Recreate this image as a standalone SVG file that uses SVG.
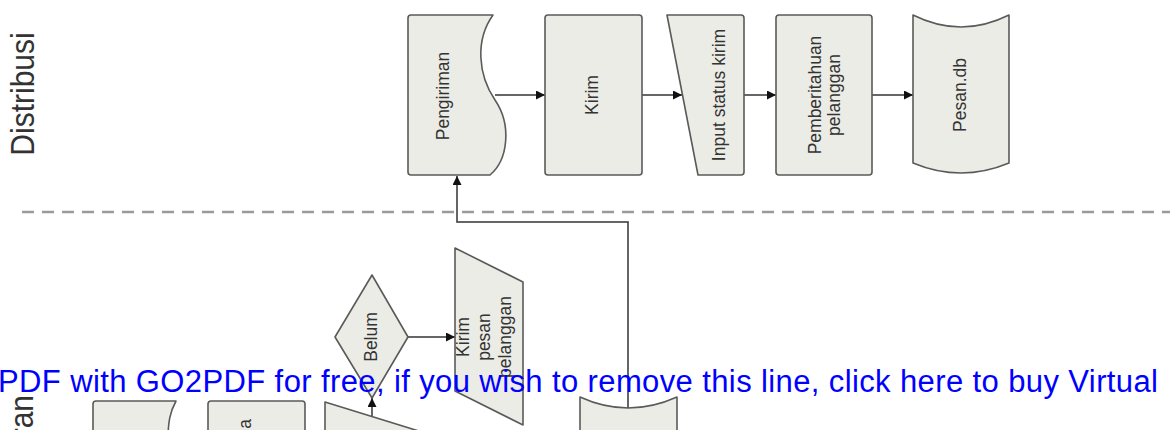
<svg xmlns="http://www.w3.org/2000/svg" width="1170" height="430" viewBox="0 0 1170 430">
<style>
.bg{fill:#ffffff}
.node{fill:#ecece6;stroke:#5a5a5a;stroke-width:1.6;stroke-linejoin:round}
.lbl{font-family:"Liberation Sans",Arial,sans-serif;font-size:17.5px;fill:#333;text-anchor:middle}
.lane{font-family:"Liberation Sans",Arial,sans-serif;font-size:30px;fill:#333}
.conn{fill:none;stroke:#333;stroke-width:1.5}
.sep{fill:none;stroke:#9a9a9a;stroke-width:2.5;stroke-dasharray:12 8}
.wm{font-family:"Liberation Sans",Arial,sans-serif;font-size:31px;fill:#0000ff}
</style>
<defs>
<marker id="ah" viewBox="0 0 10 10" refX="10" refY="5" markerWidth="11" markerHeight="9" markerUnits="userSpaceOnUse" orient="auto">
<path d="M0,0 L10,5 L0,10 Z" fill="#111"/>
</marker>
</defs>
<rect class="bg" x="0" y="0" width="1170" height="430"/>

<g id="lane-distribusi">
<text class="lane" text-anchor="middle" transform="translate(34,94) rotate(-90) scale(1,1.08)">Distribusi</text>
<line class="sep" x1="22" y1="212" x2="1170" y2="212"/>
</g>
<g id="lane-bawah">
<text class="lane" text-anchor="end" transform="translate(33,395) rotate(-90) scale(1,1.08)">ran</text>
</g>

<g id="connectors">
<line class="conn" x1="495" y1="95" x2="545" y2="95" marker-end="url(#ah)"/>
<line class="conn" x1="642" y1="95" x2="682" y2="95" marker-end="url(#ah)"/>
<line class="conn" x1="744" y1="95" x2="776" y2="95" marker-end="url(#ah)"/>
<line class="conn" x1="872" y1="95" x2="913" y2="95" marker-end="url(#ah)"/>
<polyline class="conn" points="628,408 628,222 457,222 457,176" marker-end="url(#ah)"/>
<line class="conn" x1="408" y1="337" x2="455" y2="337" marker-end="url(#ah)"/>
<line class="conn" x1="372" y1="416" x2="372" y2="398" marker-end="url(#ah)"/>
</g>

<g id="pengiriman">
<path class="node" d="M408,18 Q408,15 411,15 L493,15 C475,40 478,75 495,100 C512,125 508,160 490,175 L411,175 Q408,175 408,172 Z"/>
<text class="lbl" transform="translate(449,96) rotate(-90)">Pengiriman</text>
</g>
<g id="kirim">
<rect class="node" x="545" y="15" width="97" height="160" rx="3"/>
<text class="lbl" transform="translate(598,95) rotate(-90)">Kirim</text>
</g>
<g id="input-status-kirim">
<path class="node" d="M667,15 L741,15 Q744,15 744,18 L744,172 Q744,175 741,175 L698,175 Z"/>
<text class="lbl" transform="translate(725,95) rotate(-90)">Input status kirim</text>
</g>
<g id="pemberitahuan-pelanggan">
<rect class="node" x="776" y="15" width="96" height="160" rx="3"/>
<text class="lbl" transform="translate(821,95) rotate(-90)">Pemberitahuan</text>
<text class="lbl" transform="translate(840,95) rotate(-90)">pelanggan</text>
</g>
<g id="pesan-db">
<path class="node" d="M913,15 Q961,39 1009,15 L1009,163 Q961,183 913,163 Z"/>
<text class="lbl" transform="translate(966,95) rotate(-90)">Pesan.db</text>
</g>

<g id="belum">
<path class="node" d="M372,275 L408,337 L372,398 L335,337 Z"/>
<text class="lbl" transform="translate(377,337) rotate(-90)">Belum</text>
</g>
<g id="kirim-pesan-pelanggan">
<path class="node" d="M455,248 L523,282 L523,425 L455,391 Z"/>
<text class="lbl" transform="translate(469,337) rotate(-90)">Kirim</text>
<text class="lbl" transform="translate(490,337) rotate(-90)">pesan</text>
<text class="lbl" transform="translate(511,337) rotate(-90)">pelanggan</text>
</g>

<g id="bawah-dokumen">
<path class="node" d="M93,440 L93,404 Q93,401 96,401 L176,401 C170,412 168,422 168,440 Z"/>
</g>
<g id="bawah-proses">
<rect class="node" x="208" y="401" width="97" height="45" rx="3"/>
<text class="lbl" style="text-anchor:end" transform="translate(251,419) rotate(-90)">a</text>
</g>
<g id="bawah-input">
<path class="node" d="M325,440 L325,402 L422,432 L422,440 Z"/>
</g>
<g id="bawah-db">
<path class="node" d="M580,397 Q628,419 677,397 L677,440 L580,440 Z"/>
</g>

<g id="watermark">
<text class="wm" x="-2" y="392" textLength="1160" lengthAdjust="spacing">PDF with GO2PDF for free, if you wish to remove this line, click here to buy Virtual</text>
</g>
</svg>
